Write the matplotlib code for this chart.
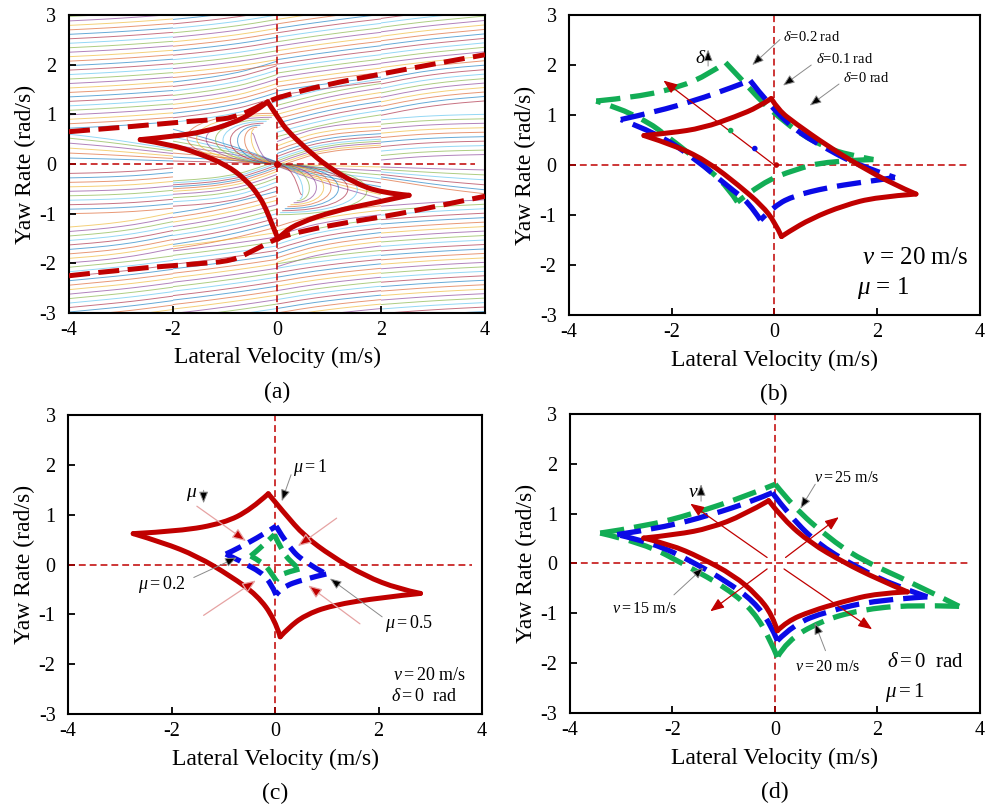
import numpy as np
import matplotlib
matplotlib.use("Agg")
import matplotlib.pyplot as plt
from matplotlib.path import Path
from matplotlib.patches import PathPatch

plt.rcParams['font.family'] = ['Liberation Serif', 'DejaVu Serif']
plt.rcParams['mathtext.fontset'] = 'custom'
plt.rcParams['mathtext.rm'] = 'Liberation Serif'
plt.rcParams['mathtext.it'] = 'Liberation Serif:italic'
plt.rcParams['axes.unicode_minus'] = False

RED = '#C00000'
BLUE = '#0A0AE6'
GREEN = '#12AD55'
PALETTE = ['#0072BD', '#D95319', '#EDB120', '#7E2F8E', '#77AC30', '#4DBEEE', '#A2142F']

xticks = [-4, -2, 0, 2, 4]
yticks = [-3, -2, -1, 0, 1, 2, 3]

# ---------------- (a) phase portrait ----------------
stream_dx = [0.0, 0.5, 1.0, 1.5, 2.0]

a_upper_levels = [0.72, 0.81, 0.90, 0.99, 1.08, 1.17, 1.26, 1.35, 1.44, 1.53, 1.62, 1.71, 1.80,
                  1.89, 1.98, 2.07, 2.16, 2.25, 2.34, 2.43, 2.52, 2.61, 2.70, 2.79, 2.88, 2.97]
a_upper_rise = [0.0, 0.025, 0.055, 0.09, 0.13]
a_inner_levels = [0.12, 0.22, 0.32, 0.42, 0.52, 0.60]
a_inner_frac = [1.0, 0.9, 0.78, 0.64, 0.5]

b_near_levels = [0.84, 0.93, 1.02, 1.11, 1.20, 1.29, 1.38, 1.47, 1.56, 1.65]
b_near_rise = [0.0, 0.06, 0.14, 0.25, 0.42]
b_far_levels = [1.74, 1.83, 1.92, 2.01, 2.10, 2.19, 2.28, 2.37, 2.46, 2.55, 2.64, 2.73, 2.82, 2.91]
b_far_rise = [0.0, 0.05, 0.11, 0.18, 0.27]
b_inner_levels = [0.06, 0.14, 0.22, 0.30, 0.38, 0.46, 0.54, 0.62, 0.70]
b_inner_frac = [1.0, 0.8, 0.58, 0.34, 0.06]

c_inner_levels = [-0.06, -0.02, 0.02, 0.06, 0.10, 0.15, 0.21, 0.28, 0.36, 0.45]
c_inner_rise = [0.0, 0.2, 0.31, 0.37, 0.4]
c_mid_levels = [0.55, 0.64, 0.73, 0.82, 0.91, 1.00, 1.09, 1.18, 1.27]
c_mid_rise = [0.0, 0.14, 0.26, 0.36, 0.44]
c_far_levels = [1.38, 1.47, 1.56, 1.65, 1.74, 1.83, 1.92, 2.01, 2.10, 2.19, 2.28, 2.37, 2.46,
                2.55, 2.64, 2.73, 2.82, 2.91]
c_far_rise = [0.0, 0.08, 0.15, 0.22, 0.28]

d_low_levels = [0.08, 0.17, 0.26, 0.35, 0.44, 0.53, 0.62, 0.71, 0.80, 0.89]
d_low_rise = [0.0, 0.05, 0.08, 0.10, 0.11]
d_mid_levels = [0.98, 1.07, 1.16, 1.25, 1.34, 1.43, 1.52, 1.61, 1.70]
d_mid_rise = [0.0, 0.11, 0.19, 0.25, 0.29]
d_far_levels = [1.85, 1.94, 2.03, 2.12, 2.21, 2.30, 2.39, 2.48, 2.57, 2.66, 2.75, 2.84, 2.93]
d_far_rise = [0.0, 0.07, 0.13, 0.18, 0.23]

# hook shaped trajectories entering the origin
hook_xu = [-0.03, -0.06, -0.10, -0.15, -0.20, -0.26, -0.32, -0.38, -0.44, -0.48]
hook_yu = [1.02, 0.98, 0.94, 0.90, 0.86, 0.82, 0.78, 0.74, 0.70, 0.62]
hook_cx = [-2.3, -2.05, -1.8, -1.55, -1.35, -1.15, -0.95, -0.75, -0.55, -0.4]
hook_cy = 0.06

a_sep_top_x = [-4.0, -2.82, -1.58, -1.2, -0.86, -0.47, -0.2, 0.12, 0.9, 2.1, 3.2, 4.0]
a_sep_top_y = [0.65, 0.75, 0.87, 0.89, 0.93, 1.09, 1.25, 1.37, 1.59, 1.83, 2.05, 2.2]
a_sep_bot_x = [-4.0, -2.82, -1.52, -0.86, -0.47, -0.21, 0.05, 0.38, 1.15, 2.12, 3.08, 4.0]
a_sep_bot_y = [-2.25, -2.11, -2.01, -1.95, -1.75, -1.61, -1.48, -1.38, -1.21, -1.05, -0.85, -0.65]

a_region_x = [-2.63, -2.04, -1.39, -0.86, -0.47, -0.18, 0.05, 0.18, 0.58, 0.97, 1.49, 2.01, 2.54,
              1.75, 1.1, 0.44, 0.12, 0.02, -0.1, -0.21, -0.34, -0.6, -0.99, -1.52, -2.04, -2.63]
a_region_y = [0.49, 0.55, 0.65, 0.82, 1.02, 1.25, 0.89, 0.69, 0.29, -0.05, -0.38, -0.58, -0.63,
              -0.81, -0.95, -1.18, -1.38, -1.51, -1.2, -0.91, -0.65, -0.31, -0.01, 0.22, 0.39, 0.49]
a_region_cusps = [0, 5, 12, 17, 25]

# ---------------- (b) steering angle ----------------
b_d0_x = [-2.54, -2.03, -1.39, -0.75, -0.31, -0.06, 0.08, 0.4, 1.04, 1.67, 2.31, 2.76, 1.99, 1.35,
          0.72, 0.27, 0.14, 0.01, -0.24, -0.69, -1.27, -1.9, -2.54]
b_d0_y = [0.59, 0.64, 0.74, 0.97, 1.16, 1.33, 1.1, 0.84, 0.38, -0.02, -0.38, -0.58, -0.64, -0.81,
          -1.07, -1.34, -1.43, -1.14, -0.81, -0.41, 0.05, 0.38, 0.59]
b_d0_cusps = [0, 5, 11, 16, 22]
b_d1_x = [-2.99, -2.29, -1.52, -0.88, -0.47, -0.12, 0.4, 1.04, 1.67, 2.35, 1.67, 1.04, 0.4, 0.01,
          -0.27, -0.5, -0.88, -1.52, -2.29, -2.99]
b_d1_y = [0.91, 1.07, 1.3, 1.53, 1.69, 1.23, 0.7, 0.31, -0.02, -0.25, -0.35, -0.45, -0.61, -0.81,
          -1.1, -0.74, -0.45, 0.11, 0.64, 0.91]
b_d1_cusps = [0, 4, 9, 14, 19]
b_d2_x = [-3.47, -2.67, -1.84, -1.27, -0.95, -0.59, -0.24, 0.08, 0.52, 1.04, 1.42, 1.93, 1.04, 0.4,
          -0.24, -0.72, -0.88, -1.27, -1.84, -2.67, -3.47]
b_d2_y = [1.28, 1.36, 1.56, 1.82, 2.05, 1.66, 1.26, 0.97, 0.61, 0.34, 0.21, 0.11, 0.08, -0.09,
          -0.35, -0.74, -0.48, -0.09, 0.38, 1.03, 1.28]
b_d2_cusps = [0, 4, 11, 15, 20]
b_eq_x = [0.04, -0.38, -0.85]
b_eq_y = [0.0, 0.33, 0.69]

# ---------------- (c) road friction ----------------
c_m1_x = [-2.74, -1.83, -0.99, -0.47, -0.13, 0.18, 0.57, 1.09, 1.74, 2.39, 2.81, 2.06, 1.09, 0.57,
          0.25, 0.1, -0.01, -0.34, -0.86, -1.51, -2.16, -2.74]
c_m1_y = [0.62, 0.67, 0.83, 1.1, 1.42, 1.03, 0.57, 0.17, -0.23, -0.49, -0.58, -0.66, -0.82, -1.02,
          -1.28, -1.45, -1.09, -0.62, -0.23, 0.17, 0.44, 0.62]
c_m1_cusps = [0, 4, 10, 15, 21]
c_m05_x = [-0.95, -0.47, 0.02, 0.25, 0.57, 0.99, 0.57, 0.12, 0.02, -0.08, -0.34, -0.95]
c_m05_y = [0.21, 0.44, 0.77, 0.37, 0.04, -0.19, -0.29, -0.46, -0.61, -0.36, -0.09, 0.21]
c_m02_x = [-0.47, -0.24, -0.01, 0.12, 0.3, 0.47, 0.25, 0.08, 0.02, -0.1, -0.25, -0.47]
c_m02_y = [0.17, 0.37, 0.6, 0.3, 0.05, -0.09, -0.15, -0.22, -0.32, -0.12, 0.05, 0.17]
c_small_cusps = [0, 2, 5, 8, 11]
c_arr_x0 = [-1.51, 1.19, -1.38, 1.64]
c_arr_y0 = [1.17, 0.93, -1.02, -1.19]
c_arr_x1 = [-0.56, 0.44, -0.37, 0.64]
c_arr_y1 = [0.47, 0.37, -0.32, -0.42]

# ---------------- (d) longitudinal speed ----------------
d_v15_x = [-2.56, -1.91, -1.26, -0.61, -0.12, 0.18, 0.7, 1.35, 2.0, 2.59, 2.0, 1.35, 0.7, 0.24,
           0.05, -0.05, -0.35, -0.8, -1.45, -2.04, -2.56]
d_v15_y = [0.51, 0.58, 0.71, 0.97, 1.26, 0.87, 0.41, 0.02, -0.31, -0.57, -0.6, -0.76, -0.96, -1.16,
           -1.35, -1.03, -0.63, -0.24, 0.12, 0.38, 0.51]
d_v15_cusps = [0, 4, 9, 14, 20]
d_v20_x = [-3.08, -2.23, -1.26, -0.41, -0.05, 0.31, 0.89, 1.67, 2.33, 2.98, 2.0, 1.02, 0.37, 0.05,
           -0.08, -0.41, -0.93, -1.58, -2.36, -3.08]
d_v20_y = [0.58, 0.71, 0.97, 1.26, 1.42, 0.93, 0.35, -0.11, -0.44, -0.67, -0.73, -0.96, -1.22, -1.55,
           -1.22, -0.76, -0.37, 0.02, 0.41, 0.58]
d_v20_cusps = [0, 4, 9, 13, 19]
d_v25_x = [-3.41, -2.56, -1.58, -0.54, 0.01, 0.37, 1.02, 1.67, 2.65, 3.6, 2.65, 1.67, 0.89, 0.24,
           0.05, -0.08, -0.41, -0.93, -1.71, -2.56, -3.41]
d_v25_y = [0.61, 0.74, 1.0, 1.36, 1.59, 1.13, 0.54, 0.08, -0.37, -0.86, -0.83, -0.93, -1.16, -1.55,
           -1.88, -1.55, -0.96, -0.5, -0.05, 0.41, 0.61]
d_v25_cusps = [0, 4, 9, 14, 20]
d_arr_x0 = [-0.15, 0.21, -0.15, 0.18]
d_arr_y0 = [0.12, 0.12, -0.11, -0.11]
d_arr_x1 = [-1.65, 1.25, -1.26, 1.9]
d_arr_y1 = [1.2, 0.93, -0.96, -1.32]


def smooth_path(xs, ys):
    # quadratic B-spline style path: the read points act as control points
    pts = list(zip(xs, ys))
    if len(pts) < 3:
        return Path(pts)
    verts = [pts[0]]
    codes = [Path.MOVETO]
    for i in range(1, len(pts) - 2):
        mid = ((pts[i][0] + pts[i + 1][0]) / 2, (pts[i][1] + pts[i + 1][1]) / 2)
        verts += [pts[i], mid]
        codes += [Path.CURVE3, Path.CURVE3]
    verts += [pts[-2], pts[-1]]
    codes += [Path.CURVE3, Path.CURVE3]
    return Path(verts, codes)


def curve(ax, xs, ys, **kw):
    ax.add_patch(PathPatch(smooth_path(xs, ys), fill=False, **kw))


def region(ax, xs, ys, cusps, **kw):
    for i0, i1 in zip(cusps[:-1], cusps[1:]):
        curve(ax, xs[i0:i1 + 1], ys[i0:i1 + 1], **kw)


def solid_region(ax, xs, ys, cusps):
    region(ax, xs, ys, cusps, edgecolor=RED, lw=3.6, joinstyle='round', capstyle='round', zorder=5)


def dashed_region(ax, xs, ys, cusps, color, dashes=(4.6, 1.9)):
    region(ax, xs, ys, cusps, edgecolor=color, lw=3.8, linestyle=(0, dashes), capstyle='butt',
           joinstyle='round', zorder=4)


def style(ax, caption):
    ax.set_xlim(-4, 4)
    ax.set_ylim(-3, 3)
    ax.set_xticks(xticks)
    ax.set_yticks(yticks)
    ax.tick_params(direction='in', length=5, width=1.3, labelsize=14.5, top=False, right=False)
    ax.tick_params(axis='y', pad=9)
    ax.tick_params(axis='x', pad=6)
    for s in ax.spines.values():
        s.set_linewidth(1.5)
    ax.set_xlabel('Lateral Velocity (m/s)', fontsize=17)
    ax.set_ylabel('Yaw Rate (rad/s)', fontsize=17)
    ax.xaxis.set_label_coords(0.5, -0.115)
    ax.yaxis.set_label_coords(-0.08, 0.5)
    ax.text(0.5, -0.265, caption, transform=ax.transAxes, ha='center', va='center', fontsize=17)
    ax.axhline(0, xmax=0.975, color=RED, lw=1.1, dashes=(4.5, 2.6), zorder=2)
    ax.axvline(0, color=RED, lw=1.1, dashes=(4.5, 2.6), zorder=2)


def note(ax, text, tx, ty, tail, head, fs):
    ax.text(tx, ty, text, fontsize=fs, ha='left', va='center', zorder=6)
    ax.annotate('', xy=head, xytext=tail,
                arrowprops=dict(arrowstyle='-|>,head_length=0.7,head_width=0.28', mutation_scale=10,
                                lw=0.7, edgecolor='#8a8a8a', facecolor='black', shrinkA=0, shrinkB=0),
                zorder=6)


def red_arrow(ax, tail, head, line_color):
    ax.annotate('', xy=head, xytext=tail,
                arrowprops=dict(arrowstyle='-|>,head_length=0.55,head_width=0.22', mutation_scale=15,
                                lw=0.9, edgecolor=line_color, facecolor=RED, shrinkA=0, shrinkB=0),
                zorder=6)


fig = plt.figure(figsize=(9.87, 8.09), dpi=100)
ax_a = fig.add_axes([0.0699, 0.6131, 0.4215, 0.3684])
ax_b = fig.add_axes([0.5765, 0.6106, 0.4160, 0.3708])
ax_c = fig.add_axes([0.0689, 0.1174, 0.4195, 0.3696])
ax_d = fig.add_axes([0.5775, 0.1187, 0.4150, 0.3696])

# ---- (a) ----
stream_kw = dict(lw=0.7, alpha=0.6, zorder=1)
k = 0
add_families = [(-4, a_upper_levels, a_upper_rise), (-2, b_near_levels, b_near_rise),
                (-2, b_far_levels, b_far_rise), (0, c_inner_levels, c_inner_rise),
                (0, c_mid_levels, c_mid_rise), (0, c_far_levels, c_far_rise),
                (2, d_low_levels, d_low_rise), (2, d_mid_levels, d_mid_rise),
                (2, d_far_levels, d_far_rise)]
for x0, levels, rise in add_families:
    xs = x0 + np.array(stream_dx)
    for lv in levels:
        ys = lv + np.array(rise)
        curve(ax_a, xs, ys, edgecolor=PALETTE[k % 7], **stream_kw)
        curve(ax_a, -xs, -ys, edgecolor=PALETTE[(k + 3) % 7], **stream_kw)
        k += 1
for x0, levels, frac in [(-4, a_inner_levels, a_inner_frac), (-2, b_inner_levels, b_inner_frac)]:
    xs = x0 + np.array(stream_dx)
    for lv in levels:
        ys = lv * np.array(frac)
        curve(ax_a, xs, ys, edgecolor=PALETTE[k % 7], **stream_kw)
        curve(ax_a, -xs, -ys, edgecolor=PALETTE[(k + 3) % 7], **stream_kw)
        k += 1
codes = [Path.MOVETO, Path.CURVE4, Path.CURVE4, Path.CURVE4]
for xu, yu, cx in zip(hook_xu, hook_yu, hook_cx):
    for sgn, off in [(1, 0), (-1, 3)]:
        verts = [(sgn * xu, sgn * yu), (sgn * cx, sgn * yu), (sgn * cx, sgn * hook_cy), (0, 0)]
        ax_a.add_patch(PathPatch(Path(verts, codes), fill=False,
                                 edgecolor=PALETTE[(k + off) % 7], **stream_kw))
    k += 1

sep_kw = dict(edgecolor=RED, lw=3.6, linestyle=(0, (4.2, 1.7)), capstyle='butt', zorder=4)
curve(ax_a, a_sep_top_x, a_sep_top_y, **sep_kw)
curve(ax_a, a_sep_bot_x, a_sep_bot_y, **sep_kw)
solid_region(ax_a, a_region_x, a_region_y, a_region_cusps)
ax_a.plot([0], [0], 'o', color=RED, ms=4, zorder=6)
style(ax_a, '(a)')

# ---- (b) ----
dashed_region(ax_b, b_d2_x, b_d2_y, b_d2_cusps, GREEN)
dashed_region(ax_b, b_d1_x, b_d1_y, b_d1_cusps, BLUE)
solid_region(ax_b, b_d0_x, b_d0_y, b_d0_cusps)
red_arrow(ax_b, (0, 0), (-2.16, 1.69), RED)
ax_b.scatter(b_eq_x, b_eq_y, s=9, c=[RED, BLUE, GREEN], zorder=7)
note(ax_b, r'$\delta$=0.2 rad', 0.17, 2.57, (0.11, 2.51), (-0.43, 2.0), 10.5)
note(ax_b, r'$\delta$=0.1 rad', 0.81, 2.12, (0.72, 2.0), (0.17, 1.59), 10.5)
note(ax_b, r'$\delta$=0 rad', 1.34, 1.74, (1.26, 1.62), (0.69, 1.19), 10.5)
ax_b.text(-1.43, 2.13, r'$\delta$', fontsize=14, ha='center', va='center')
note(ax_b, '', -1.29, 2.1, (-1.29, 1.98), (-1.29, 2.31), 10)
ax_b.text(1.7, -1.85, r'$v$ = 20 m/s', fontsize=18, ha='left', va='center')
ax_b.text(1.62, -2.46, r'$\mu$ = 1', fontsize=18, ha='left', va='center')
style(ax_b, '(b)')

# ---- (c) ----
dashed_region(ax_c, c_m02_x, c_m02_y, c_small_cusps, GREEN, dashes=(3.0, 1.6))
dashed_region(ax_c, c_m05_x, c_m05_y, c_small_cusps, BLUE, dashes=(3.2, 1.6))
solid_region(ax_c, c_m1_x, c_m1_y, c_m1_cusps)
for x0, y0, x1, y1 in zip(c_arr_x0, c_arr_y0, c_arr_x1, c_arr_y1):
    red_arrow(ax_c, (x0, y0), (x1, y1), '#E6A3A3')
note(ax_c, r'$\mu=1$', 0.35, 1.95, (0.31, 1.8), (0.13, 1.27), 13)
ax_c.text(-1.62, 1.4, r'$\mu$', fontsize=14, ha='center', va='center')
note(ax_c, '', -1.38, 1.4, (-1.38, 1.49), (-1.38, 1.23), 10)
note(ax_c, r'$\mu=0.2$', -2.64, -0.4, (-1.57, -0.26), (-0.74, 0.14), 13)
note(ax_c, r'$\mu=0.5$', 2.13, -1.18, (2.07, -1.05), (1.06, -0.28), 13)
ax_c.text(2.27, -2.23, r'$v=20$ m/s', fontsize=13, ha='left', va='center')
ax_c.text(2.24, -2.64, r'$\delta=0$  rad', fontsize=13, ha='left', va='center')
style(ax_c, '(c)')

# ---- (d) ----
dashed_region(ax_d, d_v25_x, d_v25_y, d_v25_cusps, GREEN)
dashed_region(ax_d, d_v20_x, d_v20_y, d_v20_cusps, BLUE)
solid_region(ax_d, d_v15_x, d_v15_y, d_v15_cusps)
for x0, y0, x1, y1 in zip(d_arr_x0, d_arr_y0, d_arr_x1, d_arr_y1):
    red_arrow(ax_d, (x0, y0), (x1, y1), RED)
note(ax_d, r'$v=25$ m/s', 0.76, 1.71, (0.79, 1.59), (0.5, 1.1), 11.5)
ax_d.text(-1.6, 1.43, r'$v$', fontsize=14, ha='center', va='center')
note(ax_d, '', -1.44, 1.4, (-1.44, 1.25), (-1.44, 1.59), 10)
note(ax_d, r'$v=15$ m/s', -3.18, -0.92, (-1.97, -0.63), (-1.39, -0.08), 11.5)
note(ax_d, r'$v=20$ m/s', 0.4, -2.08, (0.99, -1.75), (0.78, -1.19), 11.5)
ax_d.text(2.19, -1.99, r'$\delta=0$  rad', fontsize=15, ha='left', va='center')
ax_d.text(2.16, -2.59, r'$\mu=1$', fontsize=15, ha='left', va='center')
style(ax_d, '(d)')

fig.savefig('out.png', dpi=100)
